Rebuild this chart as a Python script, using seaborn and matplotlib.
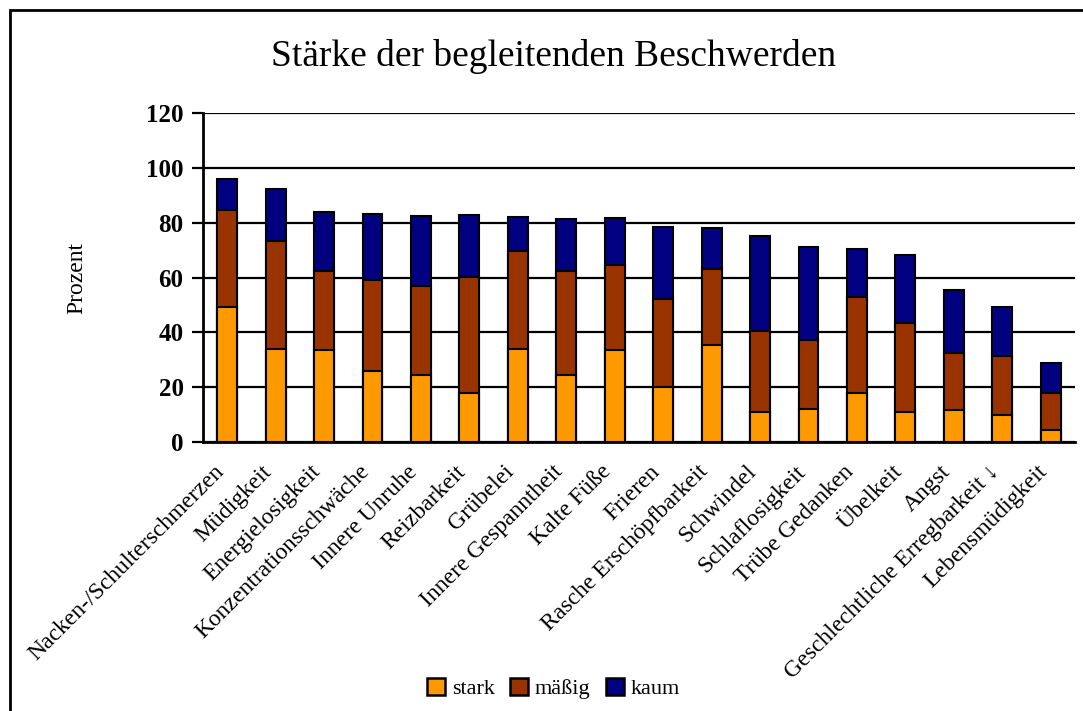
import pandas as pd
import seaborn as sns
import matplotlib.pyplot as plt
import matplotlib.transforms as mtransforms
from matplotlib.patches import Patch, Rectangle

categories = [
    "Nacken-/Schulterschmerzen", "Müdigkeit", "Energielosigkeit", "Konzentrationsschwäche",
    "Innere Unruhe", "Reizbarkeit", "Grübelei", "Innere Gespanntheit", "Kalte Füße",
    "Frieren", "Rasche Erschöpfbarkeit", "Schwindel", "Schlaflosigkeit", "Trübe Gedanken",
    "Übelkeit", "Angst", "Geschlechtliche Erregbarkeit ↓", "Lebensmüdigkeit",
]
stark = [49.3, 33.8, 33.5, 25.9, 24.6, 17.9, 34.1, 24.6, 33.6, 20.1, 35.3, 11.0, 12.2, 17.7, 11.0, 11.6, 10.0, 4.3]
maessig = [35.4, 39.4, 28.8, 33.2, 32.4, 42.2, 35.7, 37.9, 31.0, 31.9, 27.7, 29.4, 25.0, 35.1, 32.3, 20.9, 21.4, 13.4]
kaum = [11.2, 19.2, 21.6, 24.1, 25.5, 22.6, 12.2, 18.9, 17.2, 26.6, 15.0, 34.8, 33.8, 17.5, 24.8, 22.9, 17.9, 11.3]
series = ["stark", "mäßig", "kaum"]
colors = ["#FF9900", "#993300", "#000080"]
yticks = [0, 20, 40, 60, 80, 100, 120]

df = pd.DataFrame({"cat": categories, "stark": stark, "mäßig": maessig, "kaum": kaum})
df["c1"] = df["stark"]
df["c2"] = df["c1"] + df["mäßig"]
df["c3"] = df["c2"] + df["kaum"]

sns.set_theme(style="white")
plt.rcParams["font.family"] = ["Liberation Serif", "DejaVu Serif"]
plt.rcParams["text.color"] = "black"
plt.rcParams["axes.labelcolor"] = "black"
plt.rcParams["xtick.color"] = "black"
plt.rcParams["ytick.color"] = "black"

fig = plt.figure(figsize=(10.83, 7.11), dpi=100)
ax = fig.add_axes([0.1874, 0.3783, 0.8052, 0.4628])

# stacked bars: draw cumulative totals from the top segment down
for col, c in zip(["c3", "c2", "c1"], colors[::-1]):
    sns.barplot(data=df, x="cat", y=col, color=c, width=0.41, edgecolor="black",
                linewidth=1.5, saturation=1, ax=ax, zorder=3)

ax.set_ylim(0, 120)
ax.set_xlim(-0.5, len(categories) - 0.5)
ax.set_yticks(yticks)
ax.set_yticklabels([str(t) for t in yticks], fontsize=18, fontweight="bold")
ax.yaxis.grid(True, color="black", linewidth=1.6)
ax.set_axisbelow(True)
for s in ["top", "right"]:
    ax.spines[s].set_visible(False)
for s in ["left", "bottom"]:
    ax.spines[s].set_color("black")
    ax.spines[s].set_linewidth(2)
ax.tick_params(axis="y", left=True, length=8, width=1.6, color="black", pad=6)
ax.tick_params(axis="x", bottom=False)

ax.set_xticks(range(len(categories)))
ax.set_xticklabels(categories, rotation=45, ha="right", va="top", rotation_mode="anchor",
                   fontsize=17)
shift = mtransforms.ScaledTranslation(-0.14, -0.06, fig.dpi_scale_trans)
for lbl in ax.get_xticklabels():
    lbl.set_transform(lbl.get_transform() + shift)

ax.set_xlabel("")
ax.set_ylabel("Prozent", fontsize=17, labelpad=42)

fig.text(0.511, 0.92, "Stärke der begleitenden Beschwerden", ha="center", va="center", fontsize=27)

handles = [Patch(facecolor=c, edgecolor="black", linewidth=1.8) for c in colors]
fig.legend(handles, series, loc="center", bbox_to_anchor=(0.511, 0.032), ncol=3, frameon=False,
           fontsize=16, handlelength=0.8, handleheight=0.8, handletextpad=0.3, columnspacing=0.7)

fig.patches.append(Rectangle((10 / 1083, -0.05), 1.2, 1.05 - 10 / 711, transform=fig.transFigure,
                             fill=False, edgecolor="black", linewidth=2))

fig.savefig("out.png", dpi=100)
